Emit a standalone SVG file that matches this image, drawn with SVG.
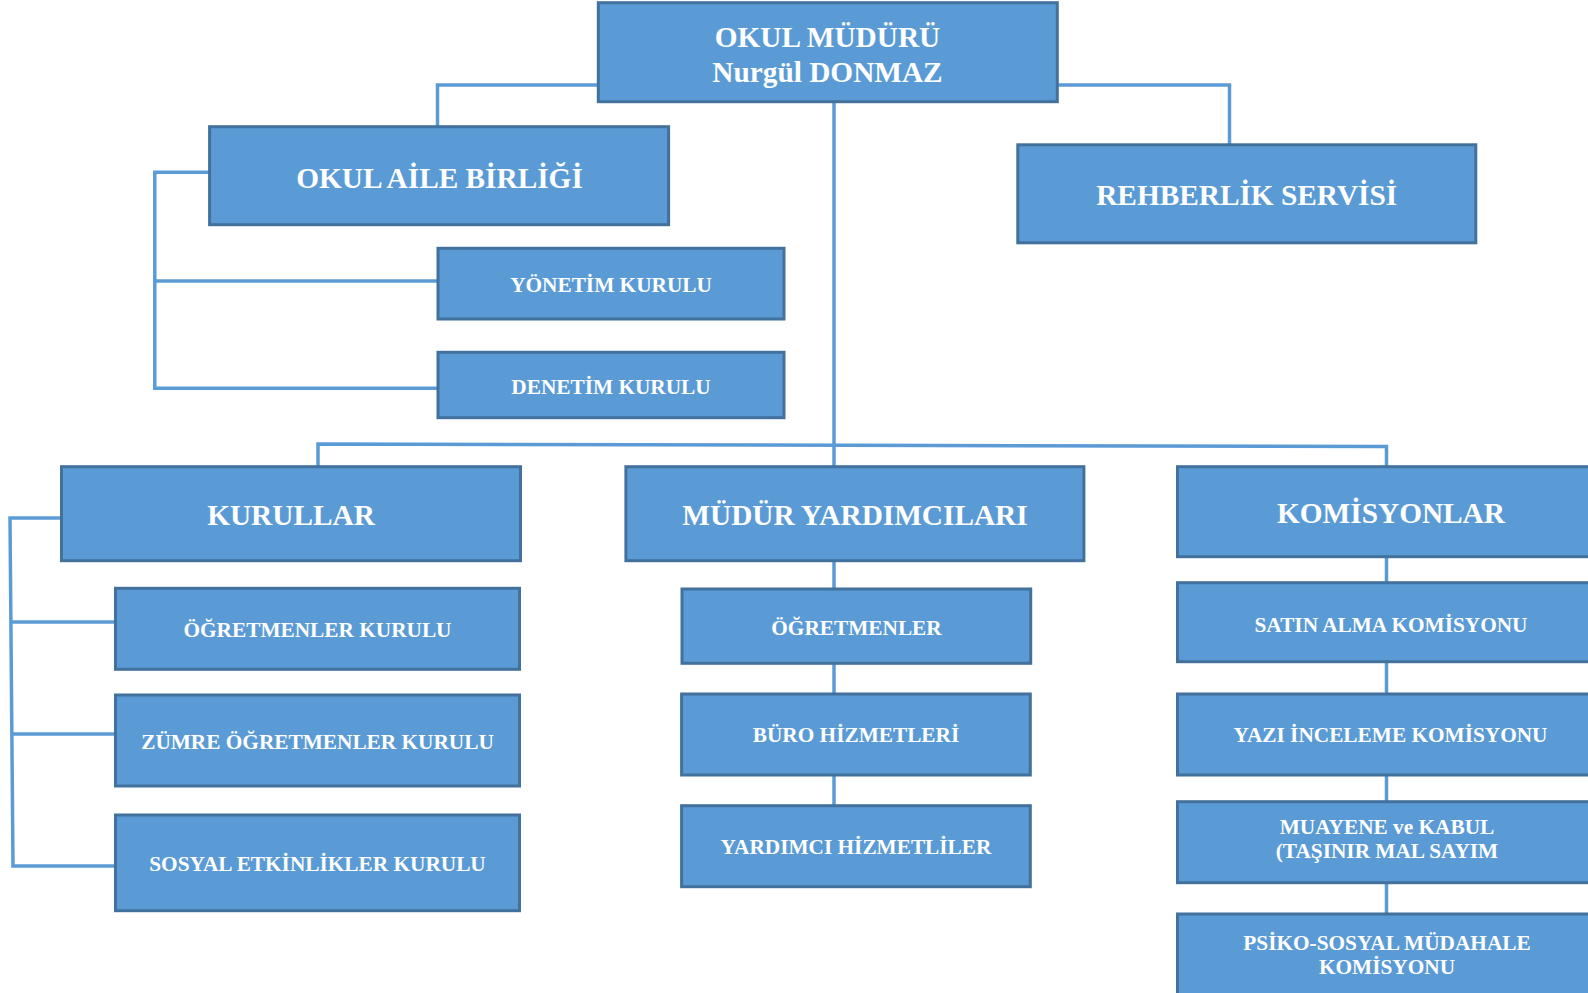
<svg xmlns="http://www.w3.org/2000/svg" width="1588" height="993" viewBox="0 0 1588 993">
<style>
.box{fill:#5B9BD5;stroke:#41719C;stroke-width:3}
.ln{fill:none;stroke:#5B9BD5;stroke-width:3.5}
text{font-family:"Liberation Serif","Times New Roman",serif;font-weight:bold;fill:#FFFFFF;text-anchor:middle}
.big{font-size:29.3px}
.sm{font-size:21.3px}
</style>
<rect x="0" y="0" width="1588" height="993" fill="#FFFFFF"/>
<g id="connectors">
<polyline class="ln" points="598,85 437.5,85 437.5,127"/>
<polyline class="ln" points="1057,85 1229.5,85 1229.5,145"/>
<line class="ln" x1="834" y1="101" x2="834" y2="806"/>
<polyline class="ln" points="209.6,172.3 154.8,172.3 154.8,388.3 438,388.3"/>
<line class="ln" x1="154.8" y1="281" x2="438" y2="281"/>
<polyline class="ln" points="318,467 318,444 1386.5,446.5 1386.5,914"/>
<polyline class="ln" points="61.5,518 10,518 13,866 115.5,866"/>
<line class="ln" x1="11.5" y1="622" x2="115.5" y2="622"/>
<line class="ln" x1="12.3" y1="734" x2="115.5" y2="734"/>
</g>
<g id="okul-muduru">
<rect class="box" x="598.3" y="2.7" width="459" height="99"/>
<text class="big" x="827.5" y="46.5">OKUL MÜDÜRÜ</text>
<text class="big" x="827.5" y="81.5">Nurgül DONMAZ</text>
</g>
<g id="okul-aile-birligi">
<rect class="box" x="209.6" y="126.7" width="459" height="98"/>
<text class="big" x="439.5" y="187.7">OKUL AİLE BİRLİĞİ</text>
</g>
<g id="rehberlik-servisi">
<rect class="box" x="1017.8" y="144.8" width="458" height="98"/>
<text class="big" x="1246.7" y="204.5">REHBERLİK SERVİSİ</text>
</g>
<g id="yonetim-kurulu">
<rect class="box" x="438" y="248.3" width="346" height="70.7"/>
<text class="sm" x="611" y="292.3">YÖNETİM KURULU</text>
</g>
<g id="denetim-kurulu">
<rect class="box" x="438" y="352.3" width="346" height="65.4"/>
<text class="sm" x="611" y="394.3">DENETİM KURULU</text>
</g>
<g id="kurullar">
<rect class="box" x="61.5" y="466.7" width="459" height="94"/>
<text class="big" x="291" y="525">KURULLAR</text>
</g>
<g id="mudur-yardimcilari">
<rect class="box" x="625.9" y="466.7" width="458" height="94"/>
<text class="big" x="855" y="525">MÜDÜR YARDIMCILARI</text>
</g>
<g id="komisyonlar">
<rect class="box" x="1177.5" y="466.7" width="425" height="90"/>
<text class="big" x="1391" y="522.7">KOMİSYONLAR</text>
</g>
<g id="ogretmenler-kurulu">
<rect class="box" x="115.5" y="588.3" width="404" height="81"/>
<text class="sm" x="317.5" y="636.7">ÖĞRETMENLER KURULU</text>
</g>
<g id="zumre-ogretmenler-kurulu">
<rect class="box" x="115.5" y="695" width="404" height="91"/>
<text class="sm" x="317.5" y="749">ZÜMRE ÖĞRETMENLER KURULU</text>
</g>
<g id="sosyal-etkinlikler-kurulu">
<rect class="box" x="115.5" y="815" width="404" height="95.7"/>
<text class="sm" x="317.5" y="871">SOSYAL ETKİNLİKLER KURULU</text>
</g>
<g id="ogretmenler">
<rect class="box" x="682" y="589" width="348.7" height="74.3"/>
<text class="sm" x="856.5" y="635">ÖĞRETMENLER</text>
</g>
<g id="buro-hizmetleri">
<rect class="box" x="681.6" y="694" width="348.7" height="81"/>
<text class="sm" x="856" y="742.3">BÜRO HİZMETLERİ</text>
</g>
<g id="yardimci-hizmetliler">
<rect class="box" x="681.6" y="805.7" width="348.7" height="81"/>
<text class="sm" x="856" y="854.3">YARDIMCI HİZMETLİLER</text>
</g>
<g id="satin-alma-komisyonu">
<rect class="box" x="1177.5" y="582.7" width="425" height="79"/>
<text class="sm" x="1391" y="631.7">SATIN ALMA KOMİSYONU</text>
</g>
<g id="yazi-inceleme-komisyonu">
<rect class="box" x="1177.5" y="694" width="425" height="81"/>
<text class="sm" x="1390.5" y="742.3">YAZI İNCELEME KOMİSYONU</text>
</g>
<g id="muayene-kabul">
<rect class="box" x="1177.5" y="801.7" width="425" height="81"/>
<text class="sm" x="1387" y="834.3">MUAYENE ve KABUL</text>
<text class="sm" x="1387" y="857.7">(TAŞINIR MAL SAYIM</text>
</g>
<g id="psiko-sosyal">
<rect class="box" x="1177.5" y="914" width="425" height="90"/>
<text class="sm" x="1387" y="950">PSİKO-SOSYAL MÜDAHALE</text>
<text class="sm" x="1387" y="974.3">KOMİSYONU</text>
</g>
</svg>
